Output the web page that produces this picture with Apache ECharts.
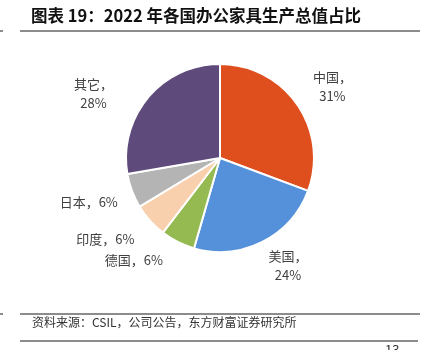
<!DOCTYPE html>
<html>
<head>
<meta charset="utf-8">
<script src="https://cdn.jsdelivr.net/npm/echarts@6/dist/echarts.min.js"></script>
<style>
  html, body { margin: 0; padding: 0; background: #ffffff; }
  #chart { width: 424px; height: 350px; }
</style>
</head>
<body>
<div id="chart"></div>
<script>
// 2022 office furniture production value share by country (%)
var countries = ['中国', '美国', '德国', '印度', '日本', '其它'];
var shares = [31, 24, 6, 6, 6, 28];
var sliceColors = ['#DF4F1E', '#5591DA', '#95BA52', '#F9D0AD', '#B4B4B4', '#5F4A7C'];

var titleText = '图表 19：2022 年各国办公家具生产总值占比';
var sourceText = '资料来源：CSIL，公司公告，东方财富证券研究所';
var pageNumber = '13';

// countries whose label wraps the value onto a second line
var wrapped = { '中国': true, '美国': true, '其它': true };
// nudges applied to each label from its default ring position
var labelNudge = {
  '中国': [-1, 7],
  '美国': [6, -16],
  '德国': [-24, -21],
  '印度': [-12, -11],
  '日本': [-2, -4],
  '其它': [-21, 24]
};

var cjk = '"Noto Sans CJK SC", "Noto Sans", sans-serif';
var CX = 220, CY = 158, R = 94;

var pieData = countries.map(function (name, i) {
  return { name: name, value: shares[i], itemStyle: { color: sliceColors[i] } };
});
var labelData = countries.map(function (name, i) {
  return { name: name, value: shares[i], label: { offset: labelNudge[name] } };
});

var chart = echarts.init(document.getElementById('chart'), null, { renderer: 'canvas' });
chart.setOption({
  backgroundColor: '#ffffff',
  animation: false,
  graphic: [
    { type: 'text', left: 31, top: 7,
      style: { text: titleText, font: 'bold 16.5px ' + cjk, fill: '#111111' } },
    { type: 'line', shape: { x1: 20, y1: 31, x2: 420, y2: 31 },
      style: { stroke: '#8c8c8c', lineWidth: 2 } },
    { type: 'line', shape: { x1: 0, y1: 31, x2: 3, y2: 31 },
      style: { stroke: '#8c8c8c', lineWidth: 2 } },
    { type: 'line', shape: { x1: 20, y1: 314, x2: 420, y2: 314 },
      style: { stroke: '#8c8c8c', lineWidth: 2 } },
    { type: 'line', shape: { x1: 0, y1: 314, x2: 3, y2: 314 },
      style: { stroke: '#8c8c8c', lineWidth: 2 } },
    { type: 'text', left: 32, top: 316,
      style: { text: sourceText, font: '12px ' + cjk, fill: '#333333' } },
    { type: 'line', shape: { x1: 20, y1: 341, x2: 418, y2: 341 },
      style: { stroke: '#8c8c8c', lineWidth: 2 } },
    { type: 'text', left: 385, top: 344,
      style: { text: pageNumber, font: '13px ' + cjk, fill: '#333333' } }
  ],
  series: [
    {
      type: 'pie',
      center: [CX, CY],
      radius: [0, R],
      startAngle: 90,
      clockwise: true,
      avoidLabelOverlap: false,
      silent: true,
      itemStyle: { borderColor: '#ffffff', borderWidth: 2 },
      label: { show: false },
      labelLine: { show: false },
      data: pieData
    },
    {
      // invisible ring that carries the category labels around the pie
      type: 'pie',
      center: [CX, CY],
      radius: [R, 176],
      startAngle: 90,
      clockwise: true,
      avoidLabelOverlap: false,
      silent: true,
      itemStyle: { color: 'rgba(0,0,0,0)', borderWidth: 0 },
      labelLine: { show: false },
      label: {
        show: true,
        position: 'inside',
        color: '#404040',
        fontFamily: cjk,
        fontSize: 13,
        lineHeight: 19,
        align: 'center',
        verticalAlign: 'middle',
        formatter: function (p) {
          return wrapped[p.name] ? p.name + '，\n' + p.value + '%' : p.name + '，' + p.value + '%';
        }
      },
      data: labelData
    }
  ]
});
</script>
</body>
</html>
